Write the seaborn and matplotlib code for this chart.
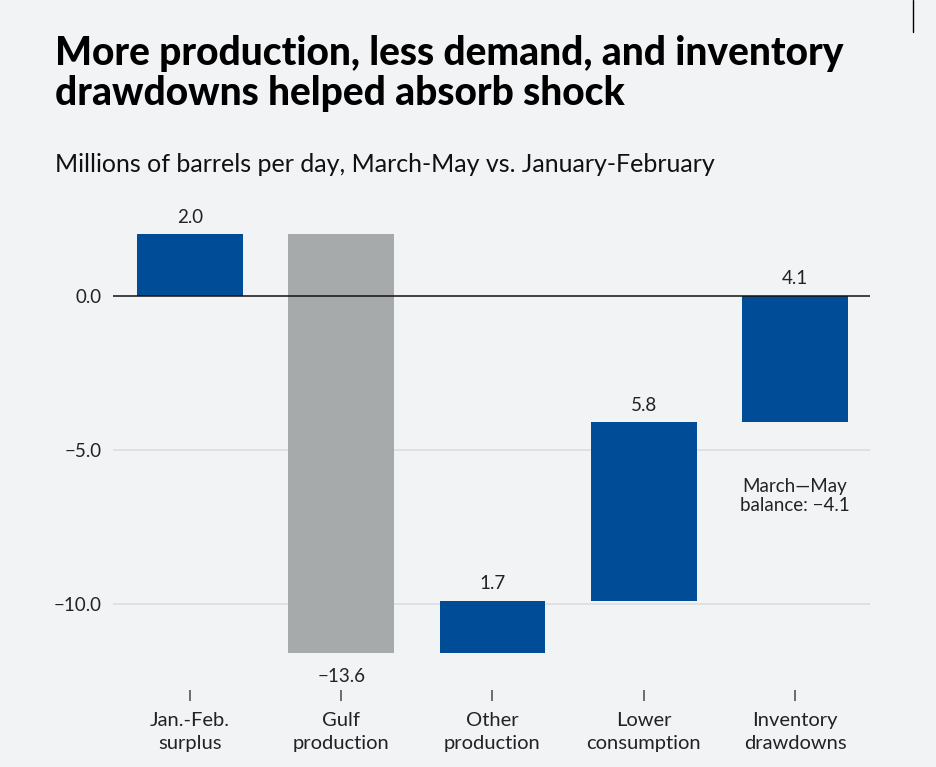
import matplotlib.pyplot as plt
import matplotlib
import seaborn as sns
import numpy as np
import pandas as pd

sns.set_theme(style='white')
matplotlib.rcParams['font.family'] = ['Lato', 'DejaVu Sans']

BG = '#f2f3f5'
BLUE = '#004c97'
GREY = '#a7aaab'

# chart data
categories = ['Jan.-Feb.\nsurplus', 'Gulf\nproduction', 'Other\nproduction',
              'Lower\nconsumption', 'Inventory\ndrawdowns']
changes = [2.0, -13.6, 1.7, 5.8, 4.1]
labels = ['2.0', '\u221213.6', '1.7', '5.8', '4.1']
bar_colors = [BLUE, GREY, BLUE, BLUE, BLUE]
yticks = [0.0, -5.0, -10.0]

ends = np.cumsum(changes)
starts = ends - np.array(changes)
df = pd.DataFrame({'category': categories, 'change': changes, 'start': starts})

fig = plt.figure(figsize=(9.36, 7.67), dpi=100, facecolor=BG)
ax = fig.add_axes([0.1207, 0.1004, 0.8088, 0.6141], facecolor=BG)

sns.barplot(data=df, x='category', y='change', bottom=df['start'].values, color=BLUE,
            width=0.7, saturation=1, linewidth=0, ax=ax)
for patch, col in zip(ax.patches, bar_colors):
    patch.set_facecolor(col)

# value labels
for i, (s, c, lab) in enumerate(zip(starts, changes, labels)):
    top = max(s, s + c)
    bot = min(s, s + c)
    if c >= 0:
        ax.text(i, top + 0.28, lab, ha='center', va='bottom', fontsize=13.5, color='#222222')
    else:
        ax.text(i, bot - 0.5, lab, ha='center', va='top', fontsize=13.5, color='#222222')

ax.text(4, -5.9, 'March\u2014May\nbalance: \u22124.1', ha='center', va='top',
        fontsize=13.5, color='#222222', linespacing=1.2)

ax.set_ylim(-12.8, 2.5)
ax.set_xlim(-0.509, 4.496)
ax.set_yticks(yticks)
ax.set_yticklabels(['0.0', '\u22125.0', '\u221210.0'], fontsize=13.5, color='#222222')
for y in yticks[1:]:
    ax.axhline(y, color='#dcdde0', lw=1.2, zorder=0)
ax.axhline(0, color='#111111', lw=1.1, zorder=3)

ax.set_xlabel('')
ax.set_ylabel('')
ax.tick_params(axis='y', left=False, length=0, pad=8)
ax.tick_params(axis='x', bottom=True, length=8, width=1.2, color='#555555', pad=8,
               labelsize=14.5, labelcolor='#222222', direction='out')
for lab in ax.get_xticklabels():
    lab.set_linespacing(1.4)
sns.despine(ax=ax, left=True, bottom=True)

fig.text(0.059, 0.955, 'More production, less demand, and inventory\ndrawdowns helped absorb shock',
         fontsize=28, fontweight='black', va='top', ha='left', color='#000000', linespacing=1.1)
fig.text(0.059, 0.785, 'Millions of barrels per day, March-May vs. January-February',
         fontsize=18, va='center', ha='left', color='#111111')

# small frame mark in the top-right corner of the source image
fig.add_artist(plt.Line2D([0.975, 0.975], [0.958, 1.0], color='#000000', lw=1,
                          transform=fig.transFigure))

plt.savefig('out.png', dpi=100, facecolor=BG)
